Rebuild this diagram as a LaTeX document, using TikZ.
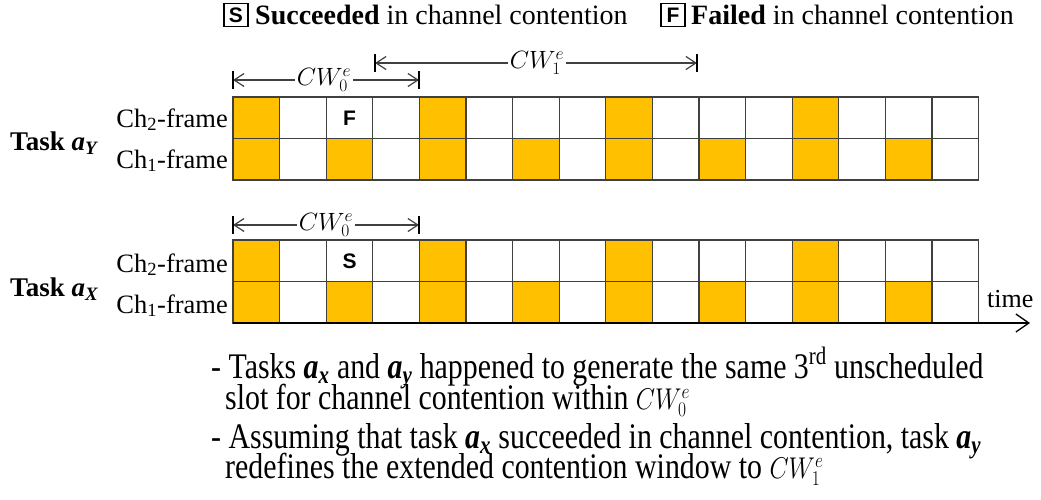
\RequirePackage{fix-cm}
\documentclass[tikz,border=0pt]{standalone}
\usepackage{fontspec}
\setmainfont{Liberation Serif}
\newfontfamily\sansbf{Liberation Sans}
\usetikzlibrary{arrows.meta}
\definecolor{gold}{HTML}{FFC000}
\definecolor{gridc}{HTML}{404040}
\newcommand\bia[1]{\textbf{\textit{a}}\textsubscript{\textbf{\textit{#1}}}}
\newcommand\narrow[1]{\scalebox{0.83}[1]{#1}}
\newcommand\notecw[1]{{\fontsize{30}{32}\selectfont$CW_{#1}^e$}}
\begin{document}
\begin{tikzpicture}[x=1pt,y=-1pt,
  cell/.style={draw=gridc,line width=1.3pt},
  legbox/.style={draw=black,line width=1.4pt,minimum width=24pt,minimum height=23pt,inner sep=0pt,font=\sansbf\bfseries\fontsize{21}{24}\selectfont},
  slotmark/.style={font=\sansbf\bfseries\fontsize{21}{24}\selectfont,inner sep=0pt},
  legtext/.style={anchor=west,inner sep=0pt,font=\fontsize{28}{32}\selectfont},
  chlabel/.style={anchor=base east,inner sep=0pt,font=\fontsize{26.5}{30}\selectfont},
  tasklabel/.style={anchor=base west,inner sep=0pt,font=\bfseries\fontsize{27}{32}\selectfont},
  cwlabel/.style={inner sep=2pt,font=\fontsize{25}{28}\selectfont},
  cwline/.style={draw=gridc,line width=1.2pt},
  barb/.style={-{Straight Barb[length=10pt,width=13pt,line width=1.2pt]}},
  bartip/.style={draw=black,line width=2.8pt},
  note/.style={anchor=base west,inner sep=0pt,font=\fontsize{36}{40}\selectfont},
]
\useasboundingbox (0,0) rectangle (1041,499);
\def\w{46.6}
% ---------- legend
\node[legbox] (sbox) at (236,15) {S};
\node[legtext] (stext) at (255,15) {\textbf{Succeeded} in channel contention};
\node[legbox] (fbox) at (673,15) {F};
\node[legtext] (ftext) at (691,15) {\textbf{Failed} in channel contention};
% ---------- grids
\foreach \top in {97,240}{
  \pgfmathsetmacro\mid{\top+41.5}
  \foreach \i in {0,4,8,12}{\fill[gold] (233+\i*\w,\top) rectangle ++(\w,41.5);}
  \foreach \i in {0,2,...,14}{\fill[gold] (233+\i*\w,\mid) rectangle ++(\w,41.5);}
  \foreach \i in {0,...,15}{
    \draw[cell] (233+\i*\w,\top) rectangle ++(\w,41.5);
    \draw[cell] (233+\i*\w,\mid) rectangle ++(\w,41.5);
  }
}
% ---------- marks
\node[slotmark] (fmark) at (233+2.5*\w,118) {F};
\node[slotmark] (smark) at (233+2.5*\w,261) {S};
% ---------- labels
\node[chlabel] (ch2y) at (228,127) {Ch\textsubscript{2}-frame};
\node[chlabel] (ch1y) at (228,168) {Ch\textsubscript{1}-frame};
\node[chlabel] (ch2x) at (228,272) {Ch\textsubscript{2}-frame};
\node[chlabel] (ch1x) at (228,313) {Ch\textsubscript{1}-frame};
\node[tasklabel] (tasky) at (10,150) {Task \textit{a}\textsubscript{\textit{Y}}};
\node[tasklabel] (taskx) at (10,296) {Task \textit{a}\textsubscript{\textit{X}}};
% ---------- time axis
\coordinate (t0) at (233,323);
\coordinate (t1) at (1030,323);
\draw[draw=black,line width=1.3pt,-{Straight Barb[length=13pt,width=18pt,line width=1.3pt]}] (t0) -- (t1);
\node[anchor=base west,inner sep=0pt,font=\fontsize{26}{30}\selectfont] (time) at (987,307) {time};
% ---------- contention windows
\coordinate (a0l) at (233,80); \coordinate (a0r) at (419,80);
\node[cwlabel] (cw0) at (324,80) {$CW_0^e$};
\draw[cwline,barb] (cw0.west) -- (a0l);
\draw[cwline,barb] (cw0.east) -- (a0r);
\draw[bartip] (233,71) -- (233,89);
\draw[bartip] (419,71) -- (419,89);
\coordinate (a1l) at (375,63); \coordinate (a1r) at (697,63);
\node[cwlabel] (cw1) at (537,63) {$CW_1^e$};
\draw[cwline,barb] (cw1.west) -- (a1l);
\draw[cwline,barb] (cw1.east) -- (a1r);
\draw[bartip] (375,54) -- (375,72);
\draw[bartip] (697,54) -- (697,72);
\coordinate (b0l) at (233,225); \coordinate (b0r) at (419,225);
\node[cwlabel] (cw0b) at (326,225) {$CW_0^e$};
\draw[cwline,barb] (cw0b.west) -- (b0l);
\draw[cwline,barb] (cw0b.east) -- (b0r);
\draw[bartip] (233,216) -- (233,234);
\draw[bartip] (419,216) -- (419,234);
% ---------- notes
\node[note] (n1) at (211,378) {\narrow{- Tasks \bia{x} and \bia{y} happened to generate the same 3\textsuperscript{rd} unscheduled}};
\node[note] (n2) at (225,409) {\narrow{slot for channel contention within \notecw{0}}};
\node[note] (n3) at (211,448) {\narrow{- Assuming that task \bia{x} succeeded in channel contention, task \bia{y}}};
\node[note] (n4) at (225,478) {\narrow{redefines the extended contention window to \notecw{1}}};
\end{tikzpicture}
\end{document}
